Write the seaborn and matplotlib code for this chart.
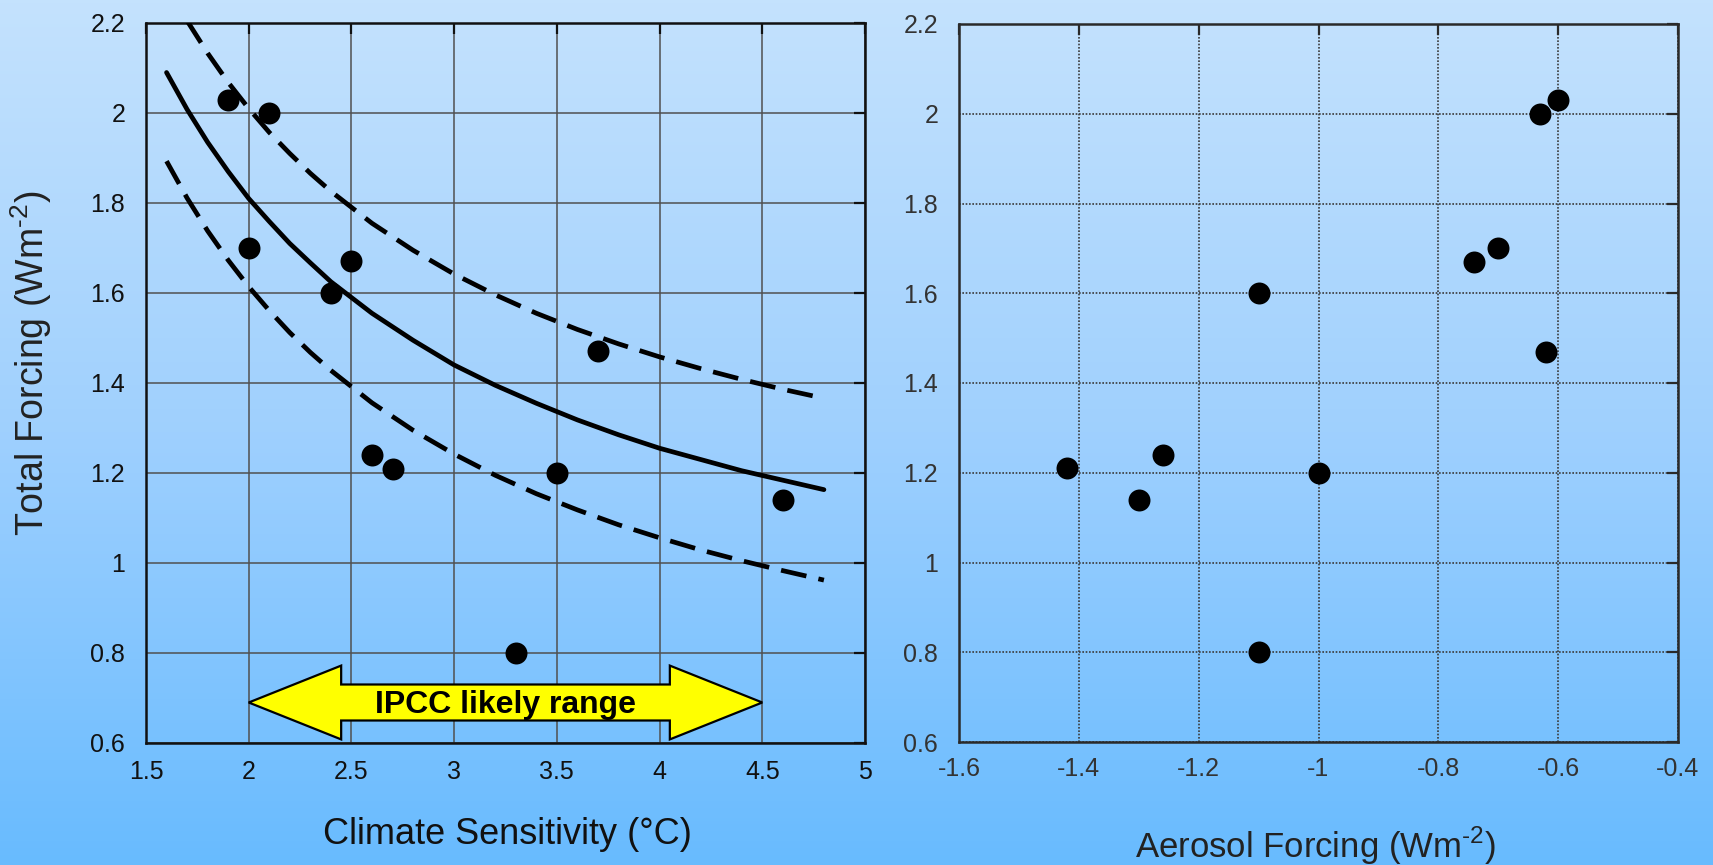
import numpy as np
import matplotlib
matplotlib.use("Agg")
import matplotlib.pyplot as plt
import seaborn as sns
from matplotlib.patches import Polygon
from matplotlib.colors import LinearSegmentedColormap

# ---------------- data ----------------
sensitivity = [1.9, 2.1, 2.0, 2.5, 2.4, 2.6, 2.7, 3.3, 3.5, 3.7, 4.6]
total_forcing = [2.03, 2.00, 1.70, 1.67, 1.60, 1.24, 1.21, 0.80, 1.20, 1.47, 1.14]
aerosol_forcing = [-0.60, -0.63, -0.70, -0.74, -1.10, -1.26, -1.42, -1.10, -1.00, -0.62, -1.30]

curve_x = [1.6, 1.7, 1.8, 1.9, 2.0, 2.1, 2.2, 2.3, 2.4, 2.6, 2.8, 3.0, 3.2, 3.4, 3.6, 3.8, 4.0,
           4.2, 4.4, 4.6, 4.8]
curve_mid = [2.09, 2.008, 1.935, 1.87, 1.81, 1.759, 1.71, 1.667, 1.625, 1.555, 1.495, 1.44, 1.395,
             1.355, 1.318, 1.285, 1.255, 1.23, 1.205, 1.184, 1.163]
curve_low = [1.893, 1.811, 1.738, 1.673, 1.614, 1.561, 1.512, 1.468, 1.428, 1.356, 1.295, 1.242,
             1.195, 1.154, 1.118, 1.085, 1.056, 1.029, 1.005, 0.983, 0.962]
upper_x = [1.7, 1.8, 1.9, 2.0, 2.1, 2.2, 2.3, 2.4, 2.6, 2.8, 3.0, 3.2, 3.4, 3.6, 3.8, 4.0, 4.2,
           4.4, 4.6, 4.8]
curve_up = [2.205, 2.133, 2.068, 2.01, 1.957, 1.91, 1.866, 1.826, 1.755, 1.695, 1.642, 1.596,
            1.555, 1.519, 1.487, 1.458, 1.432, 1.408, 1.386, 1.366]

ipcc_range = [2.0, 4.5]
ipcc_y = 0.69
ipcc_label = "IPCC likely range"

left_xticks = [1.5, 2, 2.5, 3, 3.5, 4, 4.5, 5]
right_xticks = [-1.6, -1.4, -1.2, -1.0, -0.8, -0.6, -0.4]
yticks = [0.6, 0.8, 1.0, 1.2, 1.4, 1.6, 1.8, 2.0, 2.2]

# ---------------- style ----------------
sns.set_style("white")
plt.rcParams['font.family'] = ['Liberation Sans', 'DejaVu Sans']
plt.rcParams['axes.unicode_minus'] = False
plt.rcParams['mathtext.fontset'] = 'custom'
plt.rcParams['mathtext.rm'] = 'Liberation Sans'

W, H = 1713, 865
fig = plt.figure(figsize=(W / 100, H / 100), dpi=100)

# gradient background
bg = fig.add_axes([0, 0, 1, 1], zorder=-10)
grad = np.linspace(0, 1, 256).reshape(-1, 1)
cmap = LinearSegmentedColormap.from_list('bg', ['#c4e2fd', '#9fd0fe', '#68bbfe'])
bg.imshow(grad, aspect='auto', cmap=cmap, extent=[0, 1, 0, 1], origin='upper')
bg.axis('off')

def fig_rect(x0, y0, x1, y1):
    return [x0 / W, 1 - y1 / H, (x1 - x0) / W, (y1 - y0) / H]

ax1 = fig.add_axes(fig_rect(146, 23, 865, 743))
ax2 = fig.add_axes(fig_rect(959, 24, 1678, 742))
for ax in (ax1, ax2):
    ax.set_facecolor('none')

# ---------------- left panel ----------------
ax1.set_xlim(1.5, 5)
ax1.set_ylim(0.6, 2.2)
ax1.set_xticks(left_xticks)
ax1.set_yticks(yticks)
ax1.set_xticklabels([f"{v:g}" for v in left_xticks])
ax1.set_yticklabels([f"{v:g}" for v in yticks])
ax1.grid(True, color='#505050', lw=1.1, ls='-', zorder=0)
ax1.set_axisbelow(True)
for s in ax1.spines.values():
    s.set_color('#111111')
    s.set_linewidth(1.8)
ax1.tick_params(direction='in', top=True, right=True, length=8, width=1.6, color='#111111',
                labelsize=18, labelcolor='#111111')
ax1.tick_params(axis='y', pad=15)
ax1.tick_params(axis='x', pad=12)

LW = 3.4
sns.lineplot(x=curve_x, y=curve_mid, color='black', lw=LW, ax=ax1, estimator=None, zorder=3)
sns.lineplot(x=curve_x, y=curve_low, color='black', lw=LW, ax=ax1, estimator=None, zorder=3,
             linestyle=(0, (5.5, 2.6)))
sns.lineplot(x=upper_x, y=curve_up, color='black', lw=LW, ax=ax1, estimator=None, zorder=3,
             linestyle=(0, (5.5, 2.6)))
sns.scatterplot(x=sensitivity, y=total_forcing, s=250, color='black', edgecolor='black',
                linewidth=0, ax=ax1, zorder=5)

# IPCC double arrow
lo, hi = ipcc_range
head = 0.45
sh, hh = 0.040, 0.082
poly = [(lo, ipcc_y), (lo + head, ipcc_y + hh), (lo + head, ipcc_y + sh),
        (hi - head, ipcc_y + sh), (hi - head, ipcc_y + hh), (hi, ipcc_y),
        (hi - head, ipcc_y - hh), (hi - head, ipcc_y - sh), (lo + head, ipcc_y - sh),
        (lo + head, ipcc_y - hh)]
ax1.add_patch(Polygon(poly, closed=True, facecolor='#ffff00', edgecolor='black', lw=1.6,
                      zorder=6, joinstyle='miter'))
ax1.text((lo + hi) / 2, ipcc_y - 0.005, ipcc_label, ha='center', va='center', fontsize=23,
         fontweight='bold', color='black', zorder=7)

# ---------------- right panel ----------------
ax2.set_xlim(-1.6, -0.4)
ax2.set_ylim(0.6, 2.2)
ax2.set_xticks(right_xticks)
ax2.set_yticks(yticks)
ax2.set_xticklabels([f"{v:g}" for v in right_xticks])
ax2.set_yticklabels([f"{v:g}" for v in yticks])
ax2.grid(True, color='#3a3a3a', lw=1.2, ls=(0, (1, 1)), zorder=0)
ax2.set_axisbelow(True)
for s in ax2.spines.values():
    s.set_color('#2a2a2a')
    s.set_linewidth(1.8)
ax2.tick_params(direction='in', top=True, right=True, length=8, width=1.6, color='#2a2a2a',
                labelsize=18, labelcolor='#333333')
ax2.tick_params(axis='y', pad=15)
ax2.tick_params(axis='x', pad=11)
sns.scatterplot(x=aerosol_forcing, y=total_forcing, s=250, color='black', edgecolor='black',
                linewidth=0, ax=ax2, zorder=5)

# ---------------- labels ----------------
sup = r"$^{\mathregular{\u2010}}$"
fig.text(323 / W, 1 - 844 / H, "Climate Sensitivity (°C)", ha='left', va='baseline',
         fontsize=26, color='#111111')
fig.text(1135 / W, 1 - 858 / H, "Aerosol Forcing (Wm$^{\u2010\\mathregular{2}}$)", ha='left',
         va='baseline', fontsize=25, color='#222222')
fig.text(31 / W, 1 - 363 / H, "Total Forcing (Wm$^{\u2010\\mathregular{2}}$)", ha='center',
         va='center', rotation=90, fontsize=27, color='#222222')

fig.savefig("out.png", dpi=100)
